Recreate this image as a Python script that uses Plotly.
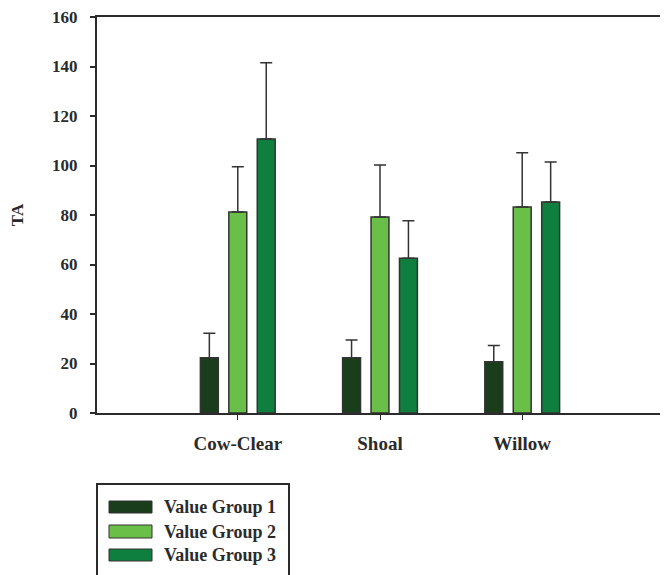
import plotly.graph_objects as go

categories = ["Cow-Clear", "Shoal", "Willow"]
series_names = ["Value Group 1", "Value Group 2", "Value Group 3"]
group1 = [22.3, 22.3, 20.7]
group1_err = [9.9, 7.2, 6.6]
group2 = [81.2, 79.2, 83.2]
group2_err = [18.3, 21.0, 22.0]
group3 = [110.7, 62.5, 85.3]
group3_err = [30.8, 15.2, 16.1]
y_ticks = [0, 20, 40, 60, 80, 100, 120, 140, 160]

colors = ["#1a3d1c", "#6abf48", "#0e7f3e"]
values = [group1, group2, group3]
errors = [group1_err, group2_err, group3_err]

FONT = "Liberation Serif"
TXT = "#2b2b2b"
fig = go.Figure()
for name, vals, errs, col in zip(series_names, values, errors, colors):
    fig.add_trace(go.Bar(
        x=categories, y=vals, name=name,
        marker=dict(color=col, line=dict(color="#333333", width=1.5)),
        error_y=dict(type="data", symmetric=False, array=errs,
                     arrayminus=[0] * len(errs), color="#333333",
                     thickness=1.5, width=6),
        showlegend=False,
    ))

# page body has an 8px margin, so the figure is offset by (8, 8)
OFF = 8
W, H = 660, 567
L, T = 97 - OFF, 17 - OFF
R = OFF + W - 663
B = OFF + H - 413
pw, ph = W - L - R, H - T - B

def px(x):
    return (x - OFF - L) / pw

def py(y):
    return (OFF + H - B - y) / ph

shapes = [dict(type="rect", xref="paper", yref="paper",
               x0=px(97), x1=px(289), y0=py(600), y1=py(484),
               line=dict(color="#2b2b2b", width=2), fillcolor="rgba(0,0,0,0)")]
annotations = []
rows = [(501, 513), (525, 538), (549, 561)]
for (y0, y1), name, col in zip(rows, series_names, colors):
    shapes.append(dict(type="rect", xref="paper", yref="paper",
                       x0=px(109), x1=px(152), y0=py(y1), y1=py(y0),
                       fillcolor=col, line=dict(color="#333333", width=1)))
    annotations.append(dict(xref="paper", yref="paper", x=px(162),
                            y=py((y0 + y1) / 2), text="<b>%s</b>" % name,
                            showarrow=False, xanchor="left", yanchor="middle",
                            font=dict(family=FONT, size=18, color=TXT)))

fig.update_layout(
    width=W, height=H,
    margin=dict(l=L, r=R, t=T, b=B, autoexpand=False),
    paper_bgcolor="white", plot_bgcolor="white",
    barmode="group", bargap=0.4, bargroupgap=0.37,
    font=dict(family=FONT, color=TXT),
    shapes=shapes, annotations=annotations,
    xaxis=dict(range=[-0.99, 2.99], showline=True, linecolor="#2b2b2b",
               linewidth=2, mirror=True, ticks="outside", ticklen=5,
               tickwidth=1, tickcolor="#2b2b2b", showgrid=False,
               ticklabelstandoff=7,
               tickfont=dict(family=FONT, size=19, color=TXT),
               tickvals=categories,
               ticktext=["<b>%s</b>" % c for c in categories]),
    yaxis=dict(range=[0, 160], tickvals=y_ticks,
               ticktext=["<b>%d</b>" % v for v in y_ticks],
               showline=True, linecolor="#2b2b2b", linewidth=2, mirror=True,
               ticks="outside", ticklen=5, tickwidth=1.5,
               tickcolor="#2b2b2b", showgrid=False, zeroline=False,
               ticklabelstandoff=9, ticklabeloverflow="allow",
               tickfont=dict(family=FONT, size=17, color=TXT),
               title=dict(text="<b>TA</b>", standoff=26,
                          font=dict(family=FONT, size=17, color=TXT))),
)

fig.write_html("out.html")
